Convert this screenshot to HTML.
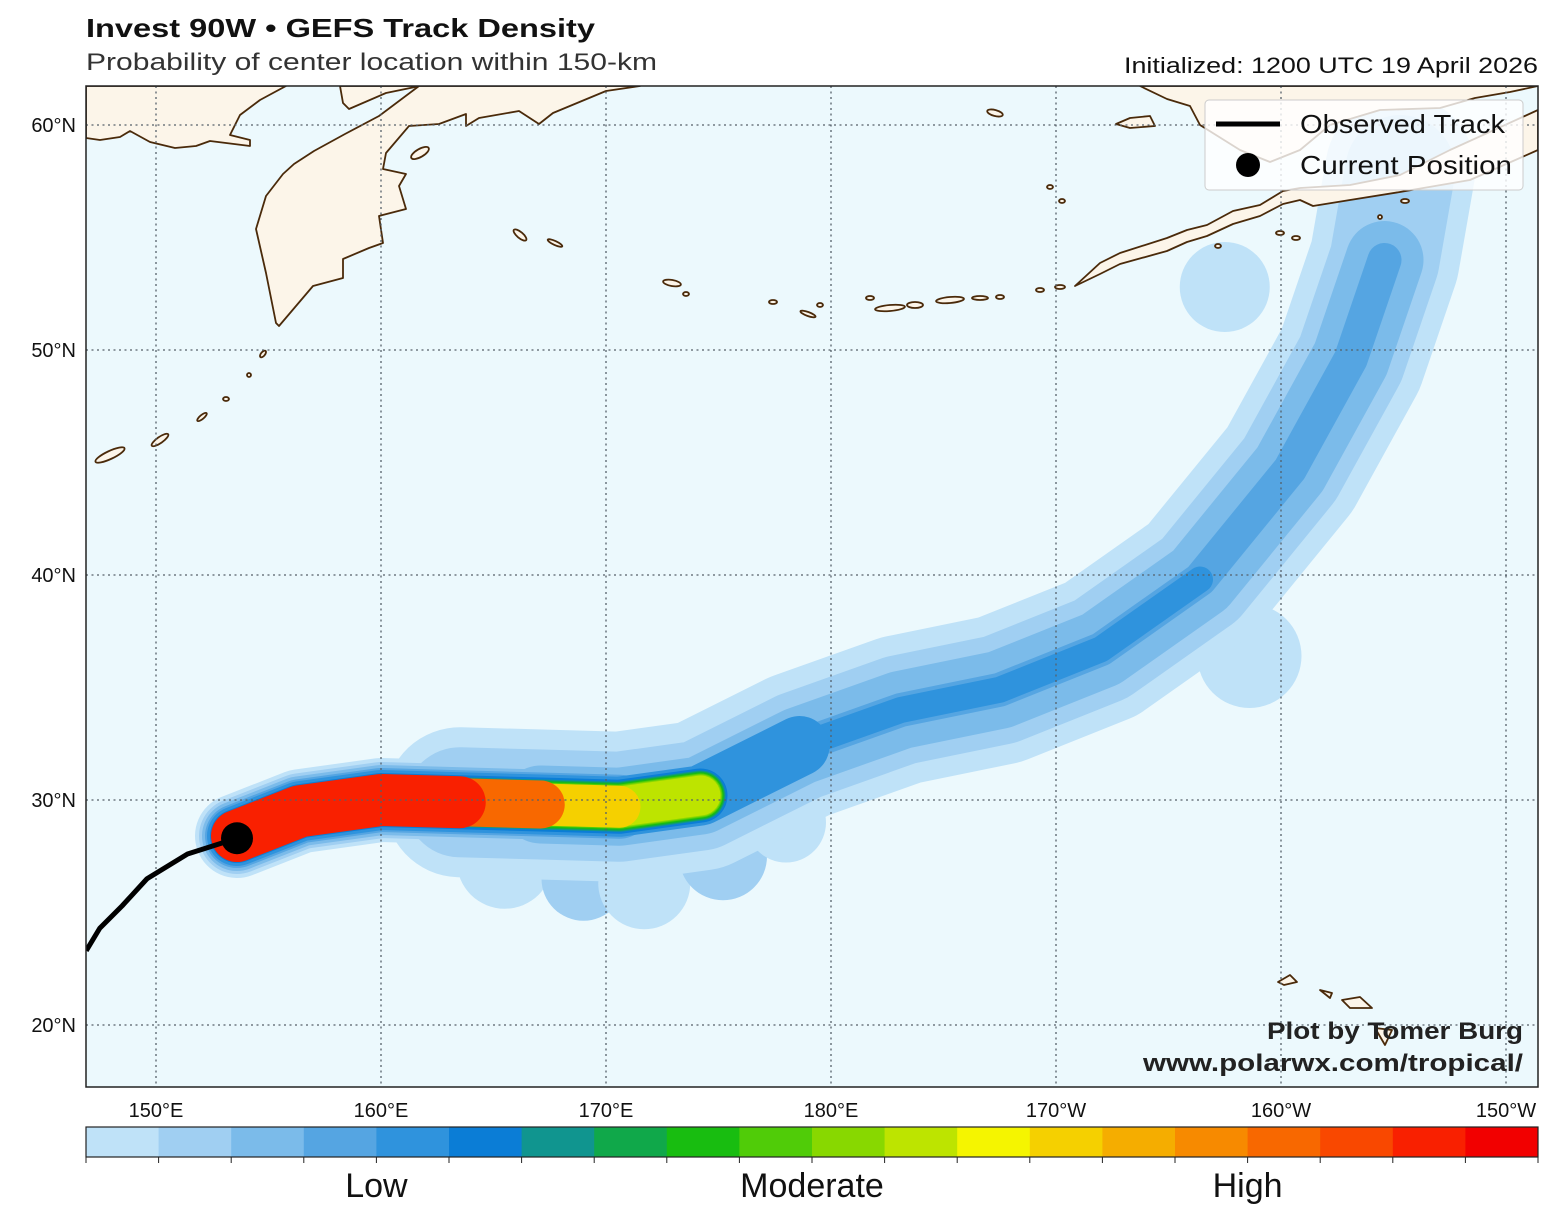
<!DOCTYPE html>
<html><head><meta charset="utf-8">
<style>
body{margin:0;background:#fff;width:1558px;height:1220px;overflow:hidden;font-family:"Liberation Sans","DejaVu Sans",sans-serif}
svg{position:absolute;left:0;top:0}
</style></head>
<body>
<svg id="chart" width="1558" height="1220">
<text x="86" y="37" font-size="26" font-weight="bold" fill="#111" textLength="509" lengthAdjust="spacingAndGlyphs">Invest 90W • GEFS Track Density</text>
<text x="86" y="70" font-size="24" fill="#333" textLength="571" lengthAdjust="spacingAndGlyphs">Probability of center location within 150-km</text>
<text x="1124" y="73" font-size="22" fill="#111" textLength="414" lengthAdjust="spacingAndGlyphs">Initialized: 1200 UTC 19 April 2026</text>
<defs><clipPath id="clip"><rect x="86" y="86" width="1452" height="1001"/></clipPath></defs>
<rect x="86" y="86" width="1452" height="1001" fill="#ecf9fd"/>
<g id="map" clip-path="url(#clip)"></g>
<rect x="86" y="86" width="1452" height="1001" fill="none" stroke="#222" stroke-width="1.5"/>
<g id="axes"></g>
<g id="cbar"></g>
<g>
<rect x="1205" y="100" width="318" height="90" rx="4" fill="#fff" fill-opacity="0.8" stroke="#ccc"/>
<line x1="1216" y1="124" x2="1280" y2="124" stroke="#000" stroke-width="5"/>
<text x="1300" y="133" font-size="26" fill="#111" textLength="205" lengthAdjust="spacingAndGlyphs">Observed Track</text>
<circle cx="1248" cy="165" r="12" fill="#000"/>
<text x="1300" y="174" font-size="26" fill="#111" textLength="212" lengthAdjust="spacingAndGlyphs">Current Position</text>
</g>
<text x="1267" y="1039" font-size="24" font-weight="bold" fill="#222" textLength="256" lengthAdjust="spacingAndGlyphs">Plot by Tomer Burg</text>
<text x="1143" y="1071" font-size="24" font-weight="bold" fill="#222" textLength="380" lengthAdjust="spacingAndGlyphs">www.polarwx.com/tropical/</text>
</svg>
<script>
const cbColors=["#bfe2f8","#a0cff2","#7bbbea","#55a5e2","#2f93dd","#0b7dd6","#10958f","#10a84a","#18bd10","#50cc08","#88d800","#bde400","#f5f500","#f5d000","#f5ad00","#f78a00","#f86800","#f94800","#f92000","#f20000"];
const cbLabels=["Low","Moderate","High"];
const cbLabelPos=[4,10,16];
const lonTicks=[150,160,170,180,190,200,210];
const lonLabels=["150°E","160°E","170°E","180°E","170°W","160°W","150°W"];
const latTicks=[20,30,40,50,60];
const latLabels=["20°N","30°N","40°N","50°N","60°N"];
const obsLon=[146.9,147.5,148.5,149.6,151.4,153.6];
const obsLat=[23.3,24.3,25.3,26.5,27.6,28.3];
const curLon=153.6, curLat=28.3;
const cenLon=[153.6,156.4,160.0,163.5,167.1,170.6,174.2,178.6,183.1,187.5,192.0,196.4,200.4,203.1,204.6,205.3];
const cenLat=[28.4,29.5,30.0,29.9,29.8,29.7,30.2,32.4,34.0,34.9,36.7,39.8,44.7,49.6,54.0,58.0];
const layerColor=[0,0,1,1,2,2,3,3,4,4,5,6,7,8,9,10,11,12,13,14,15,16,17,18];
const layerWidth=[150,84,110,76,78,70,34,64,26,60,54,50,48,46,44,42,40,38,42,44,46,48,50,52];
const layerFrom=[3,0,3,0,4,0,5,0,7,0,0,0,0,0,0,0,0,0,0,0,0,0,0,0];
const layerTo=[15,3,15,3,14,4,14,5,11,7,6,6,6,6,6,6,6,5,5,4,4,4,3,3];
const blobLon=[165.5,169.0,171.7,175.2,178.0,198.6,197.5];
const blobLat=[27.3,26.5,26.3,27.5,29.0,36.4,52.8];
const blobR=[48,42,46,44,40,52,45];
const blobColor=[0,1,0,1,0,0,0];

const NS="http://www.w3.org/2000/svg";
const X=lon=>156+(lon-150)*22.5;
const Y=lat=>125-(lat-60)*22.5;
const map=document.getElementById('map'),axes=document.getElementById('axes'),cbar=document.getElementById('cbar');
function mk(tag,attrs,parent){const e=document.createElementNS(NS,tag);for(const k in attrs)e.setAttribute(k,attrs[k]);parent.appendChild(e);return e;}

for(let i=0;i<blobLon.length;i++){
 const c=mk('circle',{cx:X(blobLon[i]),cy:Y(blobLat[i]),r:blobR[i],fill:cbColors[blobColor[i]]},map);
 
 
}
for(let i=0;i<layerColor.length;i++){
 let pts=[];for(let j=layerFrom[i];j<=layerTo[i];j++)pts.push(X(cenLon[j])+','+Y(cenLat[j]));
 const p=mk('polyline',{points:pts.join(' '),fill:'none',stroke:cbColors[layerColor[i]],'stroke-width':layerWidth[i],'stroke-linecap':'round','stroke-linejoin':'round'},map);
 
 
}
const land=[
"86,86 286,86 260,100 240,115 230,135 250,140 250,146 210,141 196,146 175,148 150,142 130,131 120,137 100,140 86,138",
"340,86 343,103 349,109 386,93 420,86",
"419,86 379,116 345,134 314,151 294,164 283,174 266,196 256,229 266,273 276,323 279,326 313,286 343,278 343,259 369,248 383,243 379,216 406,209 399,186 406,174 383,169 386,153 409,126 439,124 466,114 466,126 479,118 519,111 539,124 553,113 606,91 640,86",
"1140,86 1167,99 1190,106 1200,125 1240,150 1270,162 1300,150 1330,125 1380,110 1440,108 1475,98 1510,92 1538,86",
"1075,286 1100,263 1120,253 1167,238 1187,230 1207,225 1233,211 1260,205 1283,191 1300,188 1350,185 1400,175 1450,150 1538,110 1538,150 1470,180 1400,192 1350,200 1313,206 1300,200 1283,204 1260,216 1233,224 1207,236 1187,242 1167,251 1120,264 1100,274",
"1116,124 1130,118 1150,116 1155,126 1130,128",
"1278,982 1290,975 1297,982 1284,985","1320,990 1332,993 1330,998","1342,1000 1360,997 1372,1008 1350,1008","1375,1028 1392,1030 1385,1045"];
land.forEach(s=>{const p=mk('polygon',{points:s,fill:'#fcf5e9',stroke:'#4a2a0a','stroke-width':1.8,'stroke-linejoin':'round'},map);
 
 });
const isl=[[263,354,4,2,-50],[249,375,2,2,0],[226,399,3,2,0],[202,417,6,2,-40],[160,440,10,3,-35],[110,455,16,4,-25],[420,153,10,4,-30],[672,283,9,3,10],[686,294,3,2,0],[773,302,4,2,0],[808,314,8,2,20],[820,305,3,2,0],[890,308,15,3,-5],[915,305,8,3,0],[950,300,14,3,-5],[980,298,8,2,0],[1000,297,4,2,0],[1040,290,4,2,0],[1060,287,5,2,0],[520,235,8,3,40],[555,243,8,2,25],[995,113,8,3,15],[1050,187,3,2,0],[1062,201,3,2,0],[1218,246,3,2,0],[1280,233,4,2,0],[1296,238,4,2,0],[1380,217,2,2,0],[1405,201,4,2,0],[870,298,4,2,0]];
isl.forEach(a=>{const e=mk('ellipse',{cx:a[0],cy:a[1],rx:a[2],ry:a[3],fill:'#fcf5e9',stroke:'#4a2a0a','stroke-width':1.8,transform:`rotate(${a[4]} ${a[0]} ${a[1]})`},map);
 
 });
lonTicks.forEach(l=>{const g=mk('line',{x1:X(l),x2:X(l),y1:86,y2:1087,stroke:'#55606a','stroke-width':1.3,'stroke-dasharray':'2,3.5'},map);
 
 });
latTicks.forEach(l=>{const g=mk('line',{x1:86,x2:1538,y1:Y(l),y2:Y(l),stroke:'#55606a','stroke-width':1.3,'stroke-dasharray':'2,3.5'},map);
 
 });
const tr=mk('polyline',{points:obsLon.map((l,i)=>X(l)+','+Y(obsLat[i])).join(' '),fill:'none',stroke:'#000','stroke-width':5,'stroke-linejoin':'round'},map);


const cp=mk('circle',{cx:X(curLon),cy:Y(curLat),r:16,fill:'#000'},map);


lonTicks.forEach((l,i)=>{const t=mk('text',{x:X(l),y:1117,'font-size':20,'text-anchor':'middle',fill:'#111'},axes);t.textContent=lonLabels[i];
 
 });
latTicks.forEach((l,i)=>{const t=mk('text',{x:76,y:Y(l)+7,'font-size':20,'text-anchor':'end',fill:'#111'},axes);t.textContent=latLabels[i];
 
 });
const cw=1452/cbColors.length;
cbColors.forEach((c,i)=>{const r=mk('rect',{x:86+i*cw,y:1127,width:cw+0.5,height:30,fill:c},cbar);
 
 });
for(let i=0;i<=cbColors.length;i++){const l=mk('line',{x1:86+i*cw,x2:86+i*cw,y1:1157,y2:1163,stroke:'#222','stroke-width':1},cbar);
 
 }
const cbf=mk('rect',{x:86,y:1127,width:1452,height:30,fill:'none',stroke:'#222','stroke-width':1.2},cbar);


cbLabels.forEach((s,i)=>{const t=mk('text',{x:86+cbLabelPos[i]*cw,y:1197,'font-size':34,'text-anchor':'middle',fill:'#111'},cbar);t.textContent=s;
 
 });
</script>
</body></html>
